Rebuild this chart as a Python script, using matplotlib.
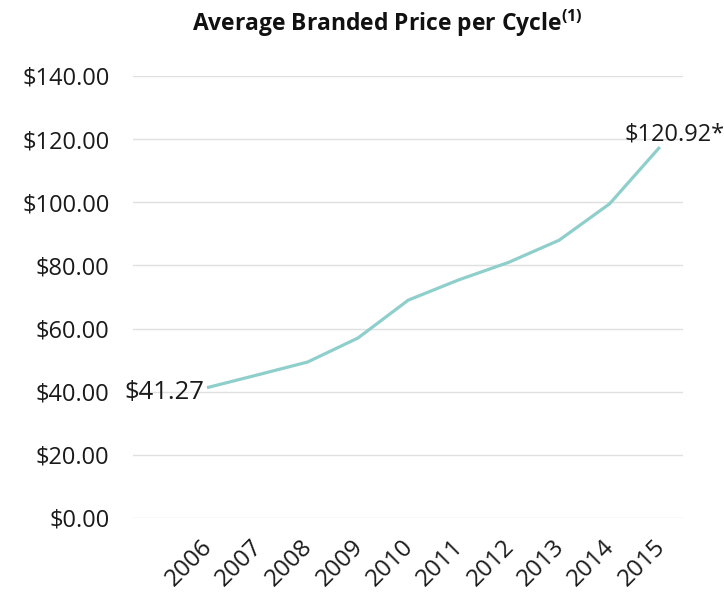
import matplotlib.pyplot as plt
import matplotlib.transforms as mtransforms

years = ['2006', '2007', '2008', '2009', '2010', '2011', '2012', '2013', '2014', '2015']
prices = [41.27, 45.3, 49.4, 57.0, 69.0, 75.4, 81.0, 88.0, 99.5, 117.5]
y_ticks = [0, 20, 40, 60, 80, 100, 120, 140]
first_label = '$41.27'
last_label = '$120.92*'

plt.rcParams['font.family'] = ['Open Sans', 'DejaVu Sans']

fig = plt.figure(figsize=(7.24, 6.03), dpi=100)
ax = fig.add_axes([0.1837, 0.141, 0.7597, 0.733])

x = list(range(len(years)))
ax.plot(x, prices, color='#8ecfcb', linewidth=2.3, solid_capstyle='butt', zorder=3)

ax.set_ylim(0, 140)
ax.set_xlim(-1.47, 9.46)
ax.set_yticks(y_ticks)
ax.set_yticklabels(['${:.2f}'.format(v) for v in y_ticks], fontsize=17, color='#1a1a1a')
ax.set_xticks(x)
ax.set_xticklabels(years, fontsize=17.5, rotation=45, ha='right', rotation_mode='anchor',
                   color='#1a1a1a')
ax.tick_params(axis='y', length=0, pad=17)
ax.tick_params(axis='x', length=0, pad=12)
# nudge year labels slightly left
shift = mtransforms.ScaledTranslation(-5 / 72, 0, fig.dpi_scale_trans)
for lbl in ax.get_xticklabels():
    lbl.set_transform(lbl.get_transform() + shift)
ax.grid(axis='y', color='#e0e0e0', linewidth=1.0)
ax.set_axisbelow(True)
for s in ax.spines.values():
    s.set_visible(False)

ax.text(x[0] - 0.06, prices[0] - 1.5, first_label, fontsize=18.5, ha='right', va='center',
        color='#1a1a1a')
ax.text(x[-1] + 0.3, 121.5, last_label, fontsize=17, ha='center', va='center',
        color='#1a1a1a')

fig.text(0.535, 0.962, r'Average Branded Price per Cycle$^{\mathregular{(1)}}$',
         fontsize=16.5, fontweight='bold', ha='center', va='center', color='#111111')

fig.savefig('out.png', dpi=100)
